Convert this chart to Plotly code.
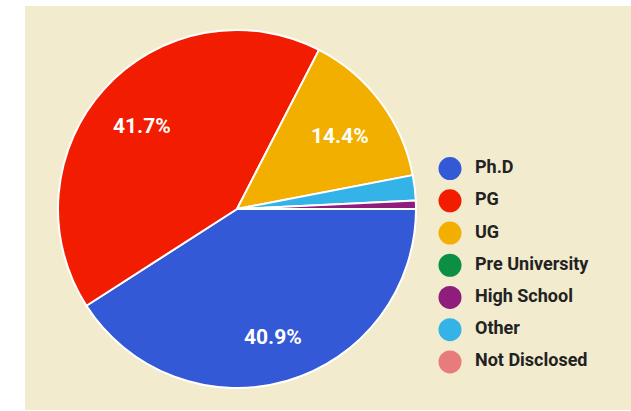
import math
import plotly.graph_objects as go

# ---- data ----
categories = ["Ph.D", "PG", "UG", "Pre University", "High School", "Other", "Not Disclosed"]
counts = [108, 110, 38, 0, 2, 6, 0]
colors = ["#3359d6", "#f21c00", "#f2af00", "#0b8f45", "#8e1d7c", "#33b3e8", "#e87b7b"]
# order in which slices are drawn clockwise around the pie
slice_order = ["Ph.D", "PG", "UG", "Other", "High School"]

total = sum(counts)
cmap = dict(zip(categories, colors))
vmap = dict(zip(categories, counts))
pie_vals = [vmap[c] for c in slice_order]
pie_cols = [cmap[c] for c in slice_order]

W, H = 631, 411
CX, CY, R = 237, 209, 179          # pie centre / radius in pixels
START_DEG = 90                      # first slice starts at 3 o'clock

fig = go.Figure()

fig.add_trace(go.Pie(
    labels=slice_order,
    values=pie_vals,
    textinfo="none",
    sort=False,
    direction="clockwise",
    rotation=START_DEG,
    marker=dict(colors=pie_cols, line=dict(color="white", width=2)),
    showlegend=False,
    hoverinfo="skip",
    domain=dict(x=[(CX - R) / W, (CX + R) / W], y=[(H - CY - R) / H, (H - CY + R) / H]),
))

# percentage labels inside the large slices, placed along each slice's mid-angle
annotations = []
cum = 0.0
for v in pie_vals:
    frac = v / total
    mid = (START_DEG - 90) + (cum + frac / 2) * 360  # clockwise from 3 o'clock
    cum += frac
    if frac < 0.05:
        continue
    a = math.radians(mid)
    px = CX + 0.72 * R * math.cos(a)
    py = CY + 0.72 * R * math.sin(a) + 4
    annotations.append(dict(
        x=px / W, y=1 - py / H, xref="paper", yref="paper",
        text=f"{frac * 100:.1f}%", showarrow=False,
        font=dict(family="Roboto", size=21, color="white", weight="bold"),
        xanchor="center", yanchor="middle",
    ))

idx = list(range(len(categories)))
# legend markers
fig.add_trace(go.Scatter(
    x=[0] * len(categories), y=idx, mode="markers",
    marker=dict(size=23, color=colors, line=dict(width=0)),
    showlegend=False, hoverinfo="skip", cliponaxis=False,
))
# legend labels
fig.add_trace(go.Scatter(
    x=[0.138] * len(categories), y=idx, mode="text",
    text=categories, textposition="middle right",
    textfont=dict(family="Roboto", size=18, color="#222222", weight="bold"),
    showlegend=False, hoverinfo="skip", cliponaxis=False,
))

fig.update_layout(
    width=W, height=H,
    margin=dict(l=0, r=0, t=0, b=0),
    paper_bgcolor="white",
    plot_bgcolor="rgba(0,0,0,0)",
    xaxis=dict(visible=False, range=[0, 1], domain=[450 / W, 1]),
    yaxis=dict(visible=False, range=[6.5, -0.5], domain=[1 - 378 / H, 1 - 152.5 / H]),
    shapes=[dict(type="rect", xref="paper", yref="paper", layer="below",
                 x0=25 / W, x1=1, y0=1 - 410 / H, y1=1 - 6 / H,
                 fillcolor="#f2ebcd", line=dict(width=0))],
    annotations=annotations,
)

fig.write_html("out.html", config={"displayModeBar": False},
               post_script="document.body.style.margin='0';")
